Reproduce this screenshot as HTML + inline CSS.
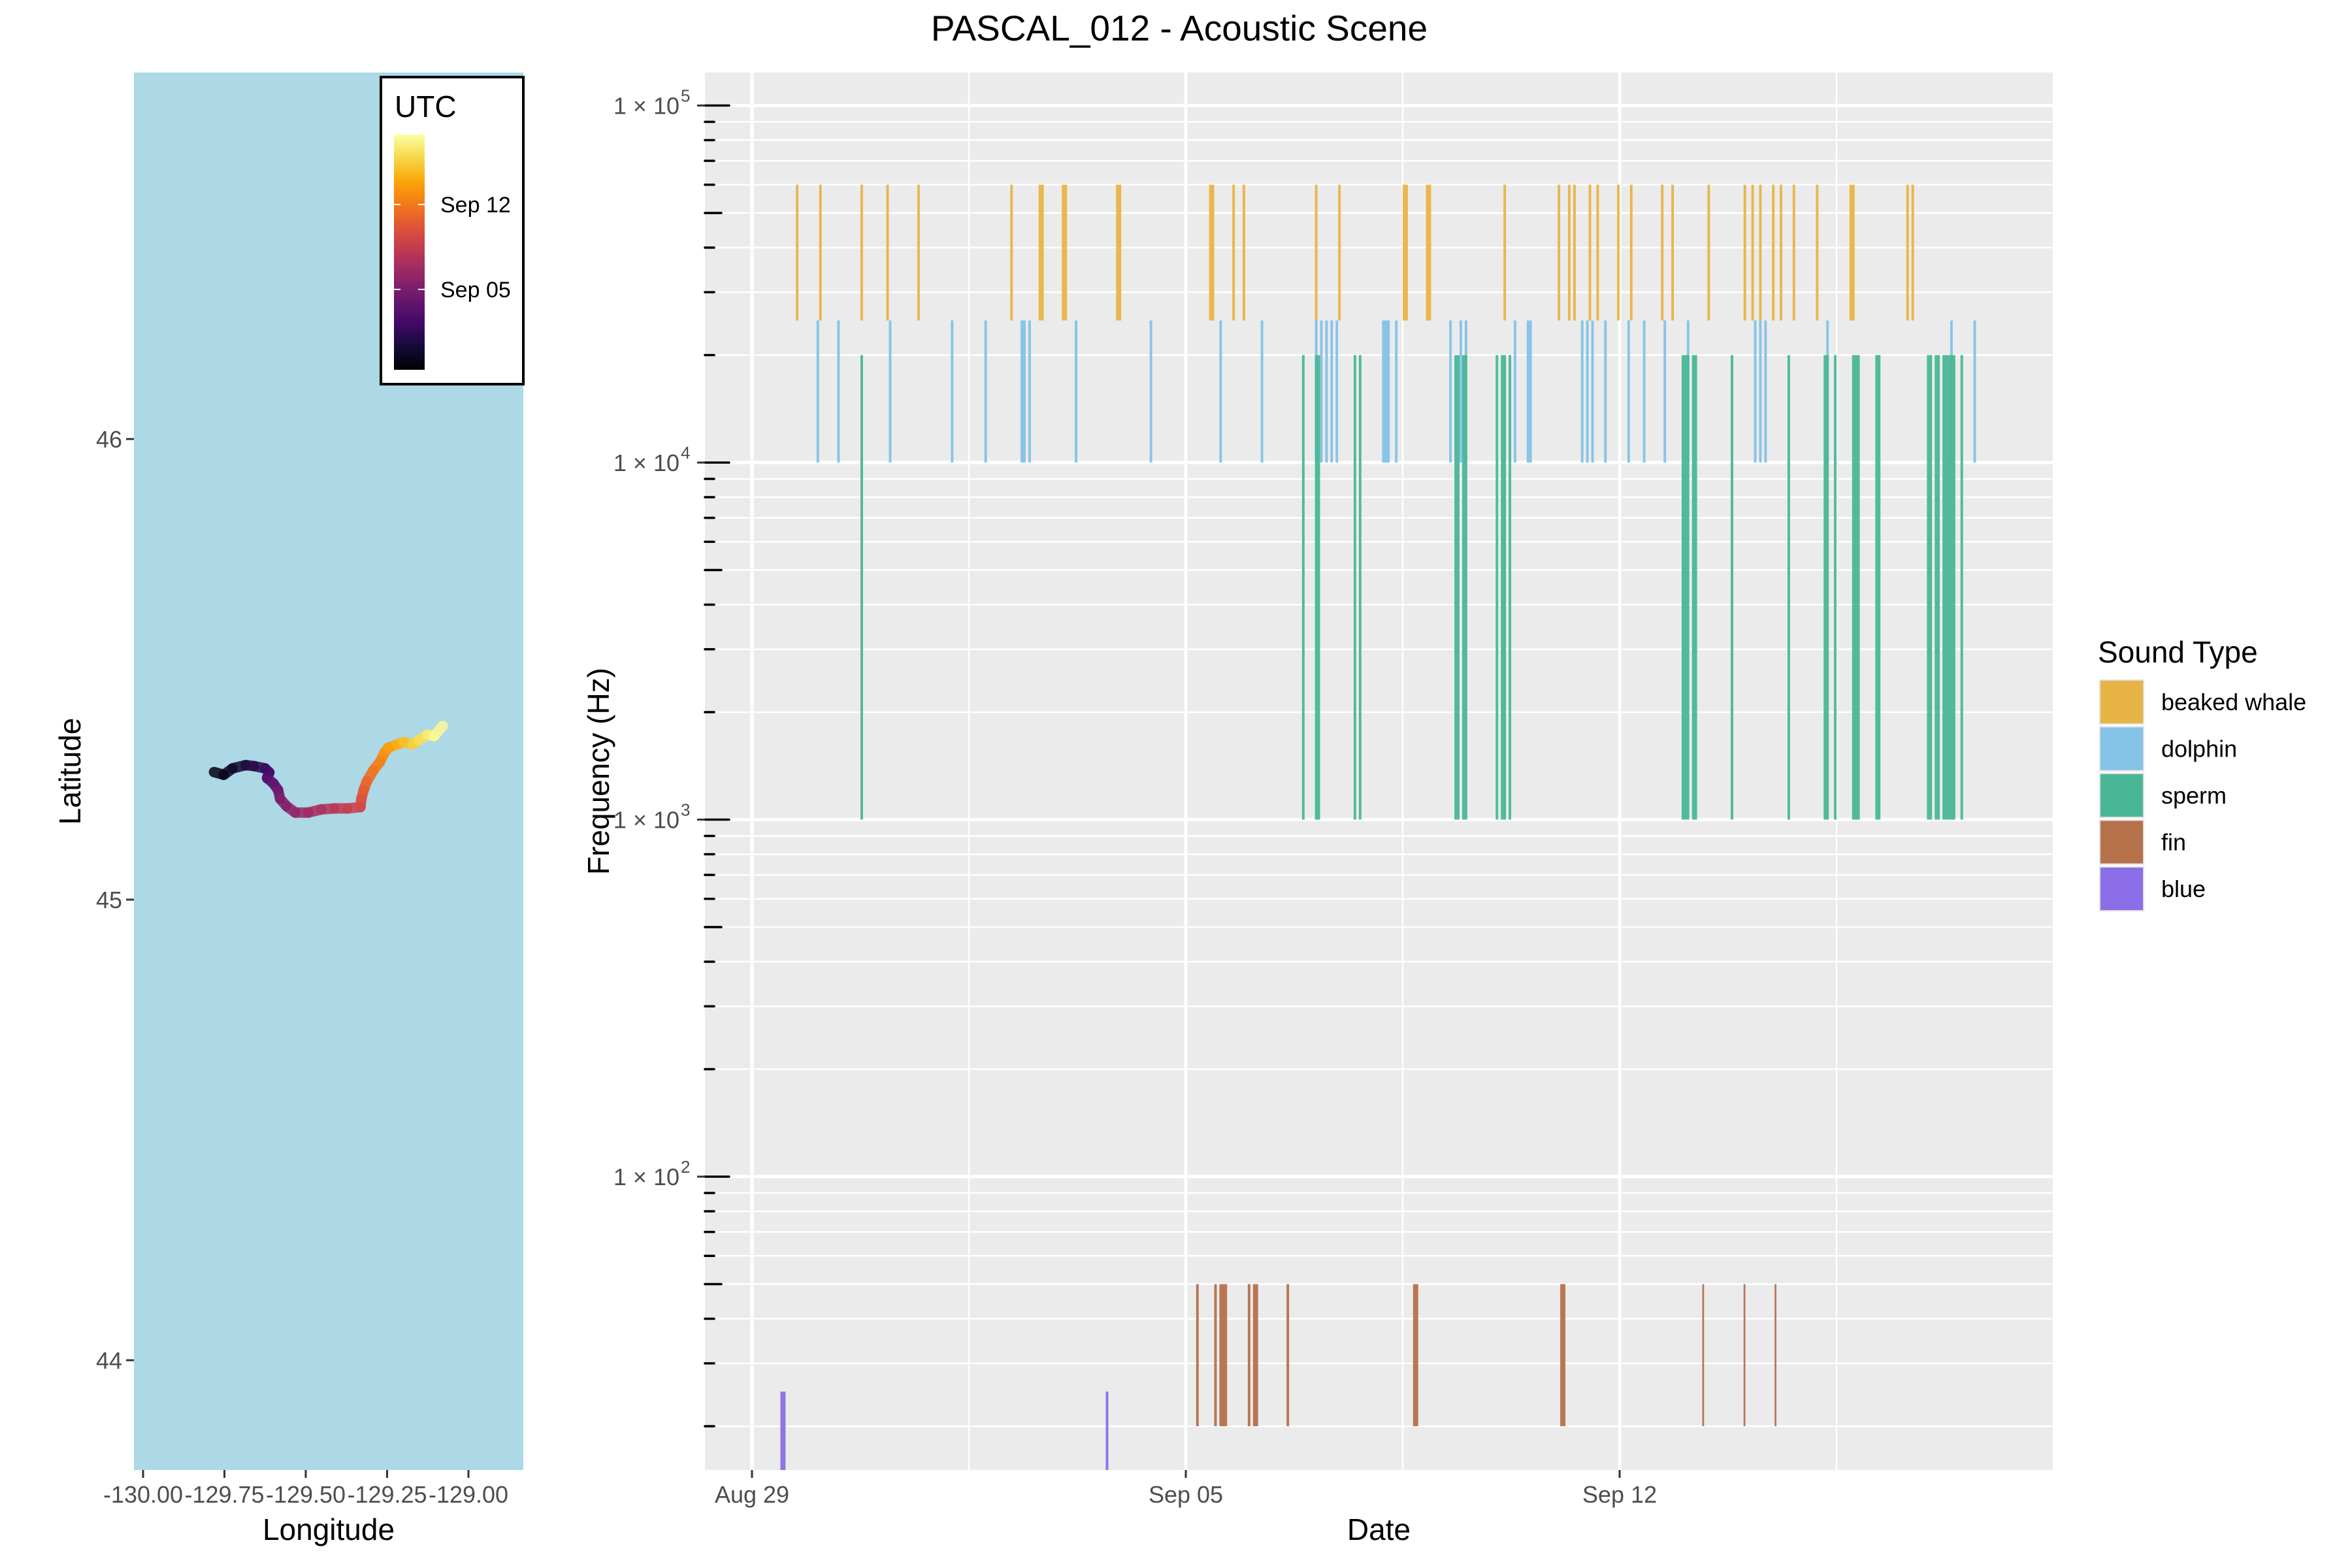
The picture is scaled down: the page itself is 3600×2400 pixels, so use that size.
<!DOCTYPE html>
<html><head><meta charset="utf-8"><style>
html,body{margin:0;padding:0;background:#fff;}
svg{display:block;font-family:"Liberation Sans",Arial,sans-serif;}
</style></head><body>
<svg id="chart" xmlns="http://www.w3.org/2000/svg" width="3600" height="2400" viewBox="0 0 3600 2400">
<text x="1805" y="62" font-size="55" text-anchor="middle" fill="#000">PASCAL_012 - Acoustic Scene</text>
<g id="map"></g>
<g id="main"></g>
<g id="legend"></g>
</svg>
<script>
// ---------- DATA ----------
const soundTypes = ["beaked whale","dolphin","sperm","fin","blue"];
const typeColors = ["#E8B445","#84C2E8","#49B796","#B5714A","#8B6EE8"];
const freqLow  = [25000,10000,1000,20,10];
const freqHigh = [60000,25000,20000,50,25];
// start hours since Aug 29 00:00 UTC, and durations (h)
const beakedStart = [17,26,42,52,64,100,111,120,141,177,186,190,218,227,252,261,291,312,316,318,324,327,335,340,352,356,370,384,387,390,395,398,403,412,425,447,449];
const beakedDur   = [1,1,1,1,1,1,2,2,2,2,1,1,1,1,2,2,1,1,1,1,1,1,1,1,1,1,1,1,1,1,1,1,1,1,2,1,1];
const dolphinStart = [25,33,53,77,90,104,107,125,154,181,197,218,220,222,224,226,244,249,270,274,276,295,300,321,323,325,330,339,345,353,362,388,390,392,416,464,473];
const dolphinDur   = [1,1,1,1,1,2,1,1,1,1,1,1,1,1,1,1,3,1,1,1,1,1,2,1,1,1,1,1,1,1,1,1,1,1,1,1,1];
const spermStart = [42,213,218,233,235,272,275,288,290,293,360,364,379,401,415,419,426,435,455,458,461,468];
const spermDur   = [1,1,2,1,1,2,2,1,2,1,3,2,1,1,2,1,3,2,2,2,5,1];
const finStart = [172,179,181,192,194,207,256,313,368,384,396];
const finDur   = [1,1,3,1,2,1,2,2,0.7,0.7,0.7];
const blueStart = [11,137];
const blueDur   = [2,1];
const dateTickLabels = ["Aug 29","Sep 05","Sep 12"];
const dateTickDays = [0,7,14];
const freqTickExps = [2,3,4,5];
// GPS track (lon, lat) in time order
const trackLon = [-129.782,-129.752,-129.725,-129.685,-129.659,-129.625,-129.612,-129.619,-129.599,-129.585,-129.579,-129.559,-129.532,-129.492,-129.452,-129.412,-129.372,-129.332,-129.329,-129.322,-129.312,-129.292,-129.272,-129.259,-129.246,-129.219,-129.199,-129.172,-129.153,-129.126,-129.106,-129.079];
const trackLat = [45.277,45.271,45.285,45.292,45.290,45.285,45.276,45.264,45.252,45.238,45.219,45.203,45.189,45.189,45.196,45.198,45.198,45.201,45.219,45.238,45.257,45.281,45.299,45.318,45.330,45.337,45.342,45.337,45.346,45.358,45.355,45.377];
const lonTicks = [-130,-129.75,-129.5,-129.25,-129];
const lonTickLabels = ["-130.00","-129.75","-129.50","-129.25","-129.00"];
const latTicks = [44,45,46];
const cbTickLabels = ["Sep 12","Sep 05"];
const cbTickDays = [14,7];

// ---------- HELPERS ----------
const NS="http://www.w3.org/2000/svg";
function mk(tag,attrs,parent){const e=document.createElementNS(NS,tag);for(const k in attrs)e.setAttribute(k,attrs[k]);parent.appendChild(e);return e;}
const main=document.getElementById('main'), map=document.getElementById('map'), legend=document.getElementById('legend');

// ---------- MAIN PANEL ----------
const PL=1079,PR=3142,PT=111,PB=2250;
const X0=1151,PXD=94.86;
const xOfHour=h=>X0+h/24*PXD;
const xOfDay=d=>X0+d*PXD;
const Y4=708,DEC=546.5;
const yOf=f=>Y4-Math.log10(f/1e4)*DEC;

const bg=mk('rect',{x:PL,y:PT,width:PR-PL,height:PB-PT,fill:'#EBEBEB'},main);


for(let e=1;e<=5;e++){for(let m=1;m<=9;m++){const f=m*Math.pow(10,e);const y=yOf(f);if(y<PT||y>PB)continue;
 const l=mk('line',{x1:PL,x2:PR,y1:y,y2:y,stroke:'#fff','stroke-width':m===1?5:2.5},main);
 
 }}
for(let d=-3.5;d<=21;d+=3.5){const x=xOfDay(d);if(x<PL||x>PR)continue;const major=Math.abs(d%7)<1e-6;
 const l=mk('line',{x1:x,x2:x,y1:PT,y2:PB,stroke:'#fff','stroke-width':major?5:2.5},main);
 
 }
const starts=[beakedStart,dolphinStart,spermStart,finStart,blueStart];
const durs=[beakedDur,dolphinDur,spermDur,finDur,blueDur];
const clip=mk('clipPath',{id:'pclip'},main);mk('rect',{x:PL,y:PT,width:PR-PL,height:PB-PT},clip);
const barG=mk('g',{'clip-path':'url(#pclip)'},main);
for(let t=0;t<5;t++){for(let i=0;i<starts[t].length;i++){const x1=xOfHour(starts[t][i]),x2=xOfHour(starts[t][i]+durs[t][i]);
 const y1=yOf(freqHigh[t]),y2=yOf(freqLow[t]);
 const r=mk('rect',{x:x1,y:y1,width:x2-x1,height:y2-y1,fill:typeColors[t],'fill-opacity':0.95},barG);
 
 }}
for(let e=1;e<=5;e++){for(let m=1;m<=9;m++){const f=m*Math.pow(10,e);const y=yOf(f);if(y<PT||y>PB)continue;
 const len=m===1?37:(m===5?25:14);
 const l=mk('line',{x1:PL,x2:PL+len,y1:y,y2:y,stroke:'#000','stroke-width':3.5,'stroke-linecap':'round'},main);
 
 }}
freqTickExps.forEach(e=>{const y=yOf(Math.pow(10,e));
 const t=mk('line',{x1:PL-12,x2:PL,y1:y,y2:y,stroke:'#333','stroke-width':3},main);
 
 
 const tx=mk('text',{x:1040,y:y+13,'font-size':36,fill:'#4D4D4D','text-anchor':'end'},main);
 
 
 tx.textContent='1 × 10';
 const sp=mk('text',{x:1042,y:y-6,'font-size':26,fill:'#4D4D4D'},main);
 
 
 sp.textContent=String(e);});
dateTickDays.forEach((d,i)=>{const x=xOfDay(d);
 const t=mk('line',{x1:x,x2:x,y1:PB,y2:PB+12,stroke:'#333','stroke-width':3},main);
 
 
 const tx=mk('text',{x:x,y:PB+50,'font-size':36,fill:'#4D4D4D','text-anchor':'middle'},main);
 
 
 tx.textContent=dateTickLabels[i];});
let tt=mk('text',{x:(PL+PR)/2,y:2357,'font-size':46,fill:'#000','text-anchor':'middle'},main);


tt.textContent='Date';
tt=mk('text',{x:0,y:0,'font-size':46,fill:'#000','text-anchor':'middle',transform:`translate(932,${(PT+PB)/2}) rotate(-90)`},main);


tt.textContent='Frequency (Hz)';

// ---------- MAP PANEL ----------
const ML=205,MR=801;
const LON0=219,PXLON=498,LAT46=672,PXLAT=705;
const mx=lon=>LON0+(lon+130)*PXLON;
const my=lat=>LAT46+(46-lat)*PXLAT;
const mbg=mk('rect',{x:ML,y:PT,width:MR-ML,height:PB-PT,fill:'#ADD8E6'},map);


const inferno=["#000004","#160b39","#420a68","#6a176e","#932667","#bc3754","#dd513a","#f37819","#fca50a","#f6d746","#fcffa4"];
function hex(c){return [1,3,5].map(i=>parseInt(c.substr(i,2),16));}
function infer(t){t=Math.max(0,Math.min(1,t));const p=t*10,i=Math.min(9,Math.floor(p)),f=p-i;const a=hex(inferno[i]),b=hex(inferno[i+1]);
 return 'rgb('+a.map((v,k)=>Math.round(v+(b[k]-v)*f)).join(',')+')';}
const n=trackLon.length;
for(let i=0;i<n-1;i++){
 const s=mk('line',{x1:mx(trackLon[i]),y1:my(trackLat[i]),x2:mx(trackLon[i+1]),y2:my(trackLat[i+1]),stroke:infer((i+0.5)/(n-1)),'stroke-width':16,'stroke-linecap':'round','stroke-opacity':0.85},map);
 
 }
lonTicks.forEach((v,i)=>{const x=mx(v);
 const t=mk('line',{x1:x,x2:x,y1:PB,y2:PB+12,stroke:'#333','stroke-width':3},map);
 
 
 const tx=mk('text',{x:x,y:PB+50,'font-size':36,fill:'#4D4D4D','text-anchor':'middle',textLength:122,lengthAdjust:'spacingAndGlyphs'},map);
 
 
 tx.textContent=lonTickLabels[i];});
latTicks.forEach(v=>{const y=my(v);
 const t=mk('line',{x1:ML-12,x2:ML,y1:y,y2:y,stroke:'#333','stroke-width':3},map);
 
 
 const tx=mk('text',{x:ML-18,y:y+13,'font-size':36,fill:'#4D4D4D','text-anchor':'end'},map);
 
 
 tx.textContent=String(v);});
tt=mk('text',{x:(ML+MR)/2,y:2357,'font-size':46,fill:'#000','text-anchor':'middle'},map);


tt.textContent='Longitude';
tt=mk('text',{x:0,y:0,'font-size':46,fill:'#000','text-anchor':'middle',transform:`translate(123,${(PT+PB)/2}) rotate(-90)`},map);


tt.textContent='Latitude';
const cb=mk('g',{},map);


mk('rect',{x:583,y:118,width:218,height:470,fill:'#fff',stroke:'#000','stroke-width':4},cb);
tt=mk('text',{x:604,y:179,'font-size':46,fill:'#000'},cb);


tt.textContent='UTC';
const defs=mk('defs',{},cb);
const grad=mk('linearGradient',{id:'inf',x1:0,y1:1,x2:0,y2:0},defs);
inferno.forEach((c,i)=>mk('stop',{offset:i/10,'stop-color':c},grad));
const CBT=206,CBB=566,CBL=603,CBR=650;
const cbr=mk('rect',{x:CBL,y:CBT,width:CBR-CBL,height:CBB-CBT,fill:'url(#inf)'},cb);


const cbY=d=>443-(d-7)*(130/7);
cbTickDays.forEach((d,i)=>{const y=cbY(d);
 mk('line',{x1:CBL,x2:CBL+10,y1:y,y2:y,stroke:'#fff','stroke-width':2},cb);
 mk('line',{x1:CBR-10,x2:CBR,y1:y,y2:y,stroke:'#fff','stroke-width':2},cb);
 const tx=mk('text',{x:674,y:y+12,'font-size':34,fill:'#000'},cb);
 
 
 tx.textContent=cbTickLabels[i];});

// ---------- LEGEND ----------
tt=mk('text',{x:3211,y:1014,'font-size':46,fill:'#000'},legend);


tt.textContent='Sound Type';
soundTypes.forEach((s,i)=>{const y=1040+i*71.5;
 const g=mk('g',{},legend);
 
 
 mk('rect',{x:3213,y:y,width:69,height:69,fill:'#F2F2F2'},g);
 mk('rect',{x:3214,y:y+1,width:67,height:67,fill:typeColors[i],stroke:'#E0E0E0','stroke-width':2},g);
 const tx=mk('text',{x:3308,y:y+47,'font-size':36,fill:'#000'},g);
 
 
 tx.textContent=s;});
</script>
</body></html>
